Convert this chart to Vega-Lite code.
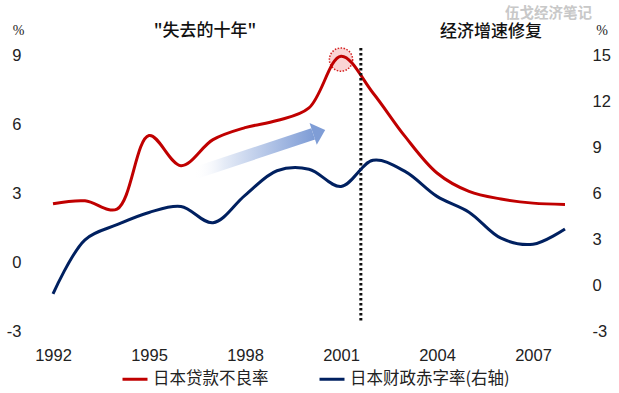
{
  "$schema": "https://vega.github.io/schema/vega-lite/v6.json",
  "width": 544,
  "height": 276,
  "autosize": {"type": "none"},
  "padding": {"left": 37, "top": 55, "right": 38, "bottom": 62},
  "background": "white",
  "config": {
    "view": {"stroke": null},
    "font": "Liberation Sans",
    "axis": {"grid": false, "domain": false, "ticks": false, "tickSize": 0, "labelFont": "Liberation Sans", "labelFontSize": 16.5, "labelColor": "#222222"},
    "legend": {"orient": "none", "legendX": 84, "legendY": 310, "direction": "horizontal", "symbolType": "stroke", "symbolStrokeWidth": 3, "symbolSize": 625, "labelFont": "Noto Sans CJK SC", "labelFontSize": 16.5, "labelColor": "#222222", "columnPadding": 44, "labelOffset": 4, "title": null}
  },
  "title": {"text": "伍戈经济笔记", "anchor": "end", "frame": "group", "font": "Noto Sans CJK SC", "fontSize": 14.5, "fontWeight": "bold", "color": "#c8c8c8", "dx": 11, "offset": 0.5},
  "datasets": {
    "npl": [
      {"year": 1992, "v": 2.53, "s": "日本贷款不良率"},
      {"year": 1993, "v": 2.66, "s": "日本贷款不良率"},
      {"year": 1994, "v": 2.3, "s": "日本贷款不良率"},
      {"year": 1995, "v": 5.5, "s": "日本贷款不良率"},
      {"year": 1996, "v": 4.19, "s": "日本贷款不良率"},
      {"year": 1997, "v": 5.32, "s": "日本贷款不良率"},
      {"year": 1998, "v": 5.84, "s": "日本贷款不良率"},
      {"year": 1999, "v": 6.15, "s": "日本贷款不良率"},
      {"year": 2000, "v": 6.7, "s": "日本贷款不良率"},
      {"year": 2001, "v": 8.95, "s": "日本贷款不良率"},
      {"year": 2002, "v": 7.35, "s": "日本贷款不良率"},
      {"year": 2003, "v": 5.46, "s": "日本贷款不良率"},
      {"year": 2004, "v": 3.87, "s": "日本贷款不良率"},
      {"year": 2005, "v": 3.07, "s": "日本贷款不良率"},
      {"year": 2006, "v": 2.74, "s": "日本贷款不良率"},
      {"year": 2007, "v": 2.56, "s": "日本贷款不良率"},
      {"year": 2008, "v": 2.5, "s": "日本贷款不良率"}
    ],
    "deficit": [
      {"year": 1992, "w": -0.58, "s": "日本财政赤字率(右轴)"},
      {"year": 1993, "w": 2.95, "s": "日本财政赤字率(右轴)"},
      {"year": 1994, "w": 3.93, "s": "日本财政赤字率(右轴)"},
      {"year": 1995, "w": 4.73, "s": "日本财政赤字率(右轴)"},
      {"year": 1996, "w": 5.12, "s": "日本财政赤字率(右轴)"},
      {"year": 1997, "w": 4.06, "s": "日本财政赤字率(右轴)"},
      {"year": 1998, "w": 5.85, "s": "日本财政赤字率(右轴)"},
      {"year": 1999, "w": 7.45, "s": "日本财政赤字率(右轴)"},
      {"year": 2000, "w": 7.55, "s": "日本财政赤字率(右轴)"},
      {"year": 2001, "w": 6.43, "s": "日本财政赤字率(右轴)"},
      {"year": 2002, "w": 8.13, "s": "日本财政赤字率(右轴)"},
      {"year": 2003, "w": 7.41, "s": "日本财政赤字率(右轴)"},
      {"year": 2004, "w": 5.78, "s": "日本财政赤字率(右轴)"},
      {"year": 2005, "w": 4.75, "s": "日本财政赤字率(右轴)"},
      {"year": 2006, "w": 3.05, "s": "日本财政赤字率(右轴)"},
      {"year": 2007, "w": 2.66, "s": "日本财政赤字率(右轴)"},
      {"year": 2008, "w": 3.65, "s": "日本财政赤字率(右轴)"}
    ],
    "arrow": [
      {"year": 1996.4, "v": 3.85},
      {"year": 2000.13, "v": 5.57}
    ],
    "arrowhead": [{"year": 2000.13, "v": 5.57}],
    "peak": [{"year": 2001, "v": 8.8}],
    "divider": [{"year": 2001.62, "v": 9.3, "v2": -2.65}],
    "headings": [
      {"year": 1996.75, "v": 10.03, "t": "\"失去的十年\""},
      {"year": 2005.69, "v": 10.0, "t": "经济增速修复"}
    ]
  },
  "layer": [
    {
      "layer": [
        {
          "data": {"name": "peak"},
          "mark": {"type": "point", "shape": "circle", "size": 540, "filled": true, "fill": "#fad4d4", "stroke": "#d42020", "strokeWidth": 1.5, "strokeDash": [1.5, 1.5], "opacity": 1},
          "encoding": {
            "x": {"field": "year", "type": "quantitative", "scale": {"domain": [1991.5, 2008.5], "nice": false, "zero": false}, "axis": {"values": [1992, 1995, 1998, 2001, 2004, 2007], "format": "d", "labelPadding": 16, "title": null}},
            "y": {"field": "v", "type": "quantitative", "scale": {"domain": [-3, 9], "nice": false, "zero": false}, "axis": {"orient": "left", "values": [-3, 0, 3, 6, 9], "labelExpr": "'' + datum.value", "labelPadding": 16, "title": "%", "titleAngle": 0, "titleX": -19, "titleY": -25, "titleAlign": "center", "titleBaseline": "middle", "titleFont": "Liberation Sans Narrow", "titleFontSize": 14, "titleFontWeight": "normal", "titleColor": "#222222"}}
          }
        },
        {
          "data": {"name": "arrow"},
          "mark": {"type": "line", "strokeWidth": 12, "strokeCap": "butt", "color": {"gradient": "linear", "x1": 0, "y1": 0, "x2": 1, "y2": 0, "stops": [{"offset": 0, "color": "rgba(255,255,255,0)"}, {"offset": 0.25, "color": "#e6ecf7"}, {"offset": 1, "color": "#7f9dd6"}]}},
          "encoding": {
            "x": {"field": "year", "type": "quantitative"},
            "y": {"field": "v", "type": "quantitative"}
          }
        },
        {
          "data": {"name": "arrowhead"},
          "mark": {"type": "point", "shape": "M0,-1L1.1,0L0,1Z", "size": 529, "angle": 341.7, "filled": true, "fill": "#7f9dd6", "strokeWidth": 0, "opacity": 1},
          "encoding": {
            "x": {"field": "year", "type": "quantitative"},
            "y": {"field": "v", "type": "quantitative"}
          }
        },
        {
          "data": {"name": "npl"},
          "mark": {"type": "line", "interpolate": "catmull-rom", "strokeWidth": 3},
          "encoding": {
            "x": {"field": "year", "type": "quantitative"},
            "y": {"field": "v", "type": "quantitative"},
            "color": {"field": "s", "type": "nominal", "scale": {"domain": ["日本贷款不良率", "日本财政赤字率(右轴)"], "range": ["#c00000", "#002060"]}}
          }
        },
        {
          "data": {"name": "divider"},
          "mark": {"type": "rule", "color": "#111111", "strokeWidth": 3, "strokeDash": [2.5, 2.5]},
          "encoding": {
            "x": {"field": "year", "type": "quantitative"},
            "y": {"field": "v", "type": "quantitative"},
            "y2": {"field": "v2"}
          }
        },
        {
          "data": {"name": "headings"},
          "mark": {"type": "text", "font": "Noto Sans CJK SC", "fontSize": 17, "fontWeight": 500, "color": "#111111", "align": "center", "baseline": "middle"},
          "encoding": {
            "x": {"field": "year", "type": "quantitative"},
            "y": {"field": "v", "type": "quantitative"},
            "text": {"field": "t"}
          }
        }
      ]
    },
    {
      "data": {"name": "deficit"},
      "mark": {"type": "line", "interpolate": "catmull-rom", "strokeWidth": 3},
      "encoding": {
        "x": {"field": "year", "type": "quantitative"},
        "y": {"field": "w", "type": "quantitative", "scale": {"domain": [-3, 15], "nice": false, "zero": false}, "axis": {"orient": "right", "values": [-3, 0, 3, 6, 9, 12, 15], "labelExpr": "'' + datum.value", "labelPadding": 11, "labelAlign": "left", "title": "%", "titleAngle": 0, "titleX": 20.5, "titleY": -25, "titleAlign": "center", "titleBaseline": "middle", "titleFont": "Liberation Sans Narrow", "titleFontSize": 14, "titleFontWeight": "normal", "titleColor": "#222222"}},
        "color": {"field": "s", "type": "nominal"}
      }
    }
  ],
  "resolve": {"scale": {"y": "independent"}}
}
